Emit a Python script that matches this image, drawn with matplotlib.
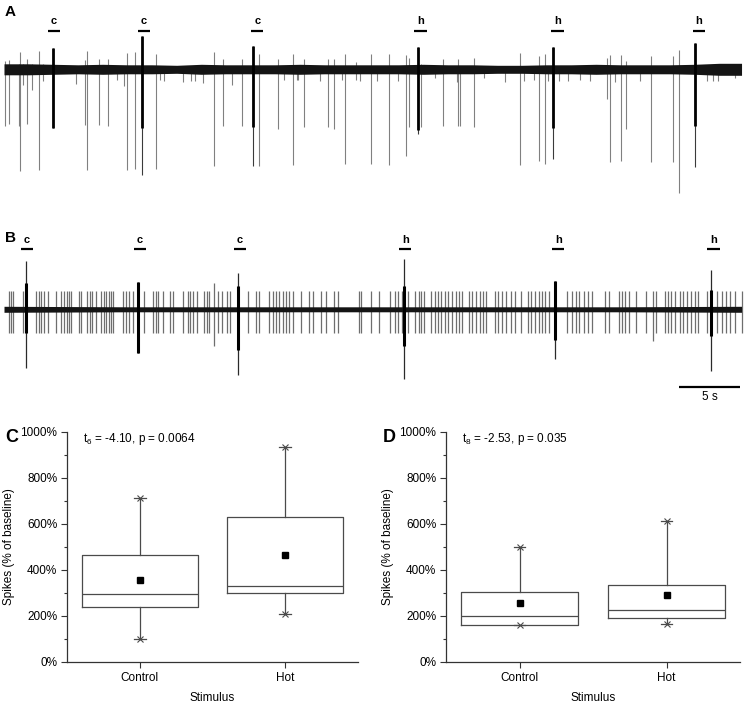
import numpy as np
import matplotlib
matplotlib.use("Agg")
import matplotlib.pyplot as plt
from matplotlib.ticker import MultipleLocator, PercentFormatter

plt.rcParams['font.family'] = ['Liberation Sans', 'DejaVu Sans']
plt.rcParams['mathtext.default'] = 'regular'

# --- Trace A (time in s, amplitude in arbitrary units) ---
a_spk_t = [0.06, 0.41, 1.19, 1.30, 1.52, 1.89, 2.25, 2.86, 3.14, 5.84, 6.57, 6.76, 7.70,
           8.41, 9.19, 9.73, 10.00, 10.65, 12.30, 12.65, 13.00, 14.54, 15.17, 15.49, 16.16,
           17.06, 17.74, 18.47, 19.28, 20.71, 22.22, 22.73, 23.41, 23.74, 23.87, 24.31,
           25.63, 26.28, 26.76, 27.39, 27.66, 28.55, 28.87, 29.79, 30.28, 31.22, 31.98,
           32.60, 32.82, 33.80, 34.98, 35.58, 36.72, 36.85, 37.01, 38.12, 38.93, 40.63,
           41.85, 42.20, 42.98, 43.41, 43.88, 44.14, 45.04, 45.72, 46.72, 47.53, 48.88,
           49.15, 49.55, 50.02, 50.45, 51.58, 52.47, 54.23, 54.69, 56.99, 57.48, 57.91, 59.29]
a_spk_down = [57, 55, 57, 102, 16, 55, 21, 101, 12, 15, 56, 101, 56,
              57, 11, 17, 101, 100, 100, 11, 12, 13, 12, 12, 14,
              97, 57, 16, 57, 97, 60, 11, 96, 11, 11, 58,
              12, 58, 60, 11, 95, 11, 12, 95, 12, 96, 12,
              87, 58, 58, 9, 57, 13, 57, 57, 58, 9, 13,
              96, 12, 11, 92, 95, 12, 12, 12, 11, 12, 30,
              93, 13, 92, 60, 12, 93, 93, 124, 12, 12, 12, 9]
a_spk_up = [8, 9, 5, 17, 5, 10, 5, 18, 5, 3, 9, 18, 10,
            10, 3, 3, 16, 17, 15, 3, 3, 3, 3, 3, 3,
            17, 10, 3, 10, 15, 10, 3, 15, 3, 3, 10,
            3, 10, 10, 3, 15, 7, 3, 15, 3, 15, 3,
            14, 11, 5, 3, 10, 3, 10, 3, 11, 3, 3,
            16, 3, 3, 13, 15, 3, 3, 3, 3, 3, 11,
            14, 3, 14, 8, 3, 13, 13, 19, 3, 3, 3, 3]
a_burst_t = [3.97, 11.17, 20.22, 33.60, 44.55, 56.04]
a_burst_core = [59, 59, 58, 61, 59, 57]
a_burst_tail = [59, 106, 97, 65, 90, 98]
a_burst_up = [21, 33, 23, 22, 22, 26]
a_env_t = [0, 2, 4, 6, 8, 10, 12, 14, 16, 18, 20, 22, 24, 26, 28, 30, 32, 34, 36, 38,
           40, 42, 44, 46, 48, 50, 52, 54, 56, 58, 59.8]
a_env = [5.5, 5.5, 5, 4.5, 5, 4.5, 4.5, 4, 5, 4.5, 4.5, 4.5, 5, 4.5, 4.5, 4.5, 4.5, 5, 4.5, 4.5,
         4, 4, 4.5, 4.5, 5, 4.5, 4.5, 4.5, 5, 6, 6]
a_stim_t = [3.54, 10.84, 20.03, 33.28, 44.39, 55.86]
a_stim_lab = ['c', 'c', 'c', 'h', 'h', 'h']

# --- Trace B ---
b_spk_t = [0.41, 0.57, 0.76, 1.52, 2.60, 2.87, 3.00, 3.27, 3.54, 4.22, 4.63, 4.90, 5.09,
           5.27, 5.44, 6.09, 6.22, 6.76, 6.98, 7.17, 7.44, 7.87, 8.14, 8.27, 8.54, 8.68,
           8.87, 9.63, 9.90, 10.17, 10.44, 11.38, 12.11, 12.33, 12.52, 12.92, 13.46, 13.68,
           14.49, 14.90, 15.09, 15.30, 15.63, 16.25, 16.44, 16.65, 17.38, 17.65, 18.06,
           18.33, 19.76, 20.44, 20.71, 21.52, 21.79, 22.06, 22.33, 22.60, 22.87, 23.14,
           23.41, 24.09, 24.76, 25.03, 25.71, 26.11, 26.79, 27.06, 28.82, 28.95, 29.76,
           30.39, 31.26, 31.69, 31.96, 32.23, 32.77, 33.36, 33.63, 33.85, 34.04, 34.66,
           34.93, 35.20, 35.47, 35.74, 36.01, 36.34, 36.61, 36.93, 37.15, 37.69, 37.96,
           38.31, 38.58, 38.85, 39.12, 39.80, 40.07, 40.39, 40.74, 41.07, 41.47, 41.88,
           42.50, 42.77, 43.09, 43.36, 43.63, 43.90, 44.17, 45.66, 46.07, 46.34, 46.61,
           47.01, 47.36, 47.69, 48.71, 49.04, 49.85, 50.07, 50.39, 50.66, 51.28, 52.09,
           52.90, 53.58, 53.85, 54.12, 54.39, 54.80, 55.07, 55.34, 55.74, 56.01, 56.28,
           56.96, 57.82, 58.23, 58.50, 58.90, 59.31, 59.80]
b_spk_up = 18
b_spk_down = 24
b_tall_t = [17.06, 52.63]
b_tall_up = [26, 18]
b_tall_down = [37, 32]
b_burst_t = [1.76, 10.84, 19.00, 32.42, 44.71, 57.34]
b_burst_core_up = [26, 27, 23, 23, 28, 19]
b_burst_core_down = [24, 44, 41, 37, 31, 27]
b_burst_tail_up = [48, 27, 36, 50, 28, 39]
b_burst_tail_down = [59, 44, 66, 70, 50, 62]
b_env_t = [0, 10, 20, 30, 40, 50, 59.8]
b_env = [3, 2.5, 2.5, 2.5, 2.5, 2.5, 3]
b_stim_t = [1.38, 10.54, 18.65, 32.04, 44.44, 57.02]
b_stim_lab = ['c', 'c', 'c', 'h', 'h', 'h']

# --- Box plots (% of baseline) ---
groups = ['Control', 'Hot']
c_med = [295, 331]; c_q1 = [238, 301]; c_q3 = [465, 629]
c_lo = [101, 208]; c_hi = [714, 933]; c_mean = [358, 465]
c_stat = 't$_6$ = -4.10, p = 0.0064'
d_med = [198, 224]; d_q1 = [160, 192]; d_q3 = [303, 334]
d_lo = [160, 166]; d_hi = [499, 614]; d_mean = [257, 292]
d_stat = 't$_8$ = -2.53, p = 0.035'

fig = plt.figure(figsize=(7.45, 7.04), dpi=100)


def trace(ax, env_t, env, ylim):
    ax.set_xlim(0, 60)
    ax.set_ylim(*ylim)
    ax.axis('off')
    ax.fill_between(env_t, -np.array(env), env, color='#141414', lw=0, zorder=2)


def stim(ax, t0s, labs, ybar, ylab):
    for t0, lab in zip(t0s, labs):
        ax.plot([t0, t0 + 1.0], [ybar, ybar], color='k', lw=1.6, solid_capstyle='butt')
        ax.text(t0 + 0.5, ylab, lab, ha='center', va='center', fontsize=8, fontweight='bold')


# A
axA = fig.add_axes([4 / 745, 1 - 200 / 704, 740 / 745, 190 / 704])
trace(axA, a_env_t, a_env, (-130.7, 59.3))
axA.vlines(a_spk_t, -np.array(a_spk_down), a_spk_up, color='#808080', lw=0.8, zorder=1)
axA.vlines(a_burst_t, -np.array(a_burst_tail), a_burst_up, color='#3a3a3a', lw=0.8, zorder=3)
axA.vlines(a_burst_t, -np.array(a_burst_core), a_burst_up, color='k', lw=2.0, zorder=3)
stim(axA, a_stim_t, a_stim_lab, 38.6, 48.3)

# B
axB = fig.add_axes([4 / 745, 1 - 402 / 704, 740 / 745, 164 / 704])
trace(axB, b_env_t, b_env, (-92.7, 71.3))
axB.vlines(b_spk_t, -b_spk_down, b_spk_up, color='#6e6e6e', lw=0.9, zorder=1)
axB.vlines(b_tall_t, -np.array(b_tall_down), b_tall_up, color='#6e6e6e', lw=0.9, zorder=1)
axB.vlines(b_burst_t, -np.array(b_burst_tail_down), b_burst_tail_up, color='#2a2a2a', lw=0.9, zorder=3)
axB.vlines(b_burst_t, -np.array(b_burst_core_down), b_burst_core_up, color='k', lw=2.2, zorder=3)
stim(axB, b_stim_t, b_stim_lab, 60.8, 69.3)
axB.plot([54.7, 59.7], [-77.7, -77.7], color='k', lw=1.6, solid_capstyle='butt')
axB.text(57.2, -87.7, '5 s', ha='center', va='center', fontsize=8.5)


def boxpanel(ax, med, q1, q3, lo, hi, mean, stat):
    stats = [dict(med=med[i], q1=q1[i], q3=q3[i], whislo=lo[i], whishi=hi[i],
                  mean=mean[i], fliers=[]) for i in range(len(groups))]
    pos = [1, 2]
    ec = '#4a4a4a'
    ax.bxp(stats, positions=pos, widths=0.8, showmeans=True, capwidths=0.08,
           boxprops=dict(color=ec, lw=0.9), medianprops=dict(color=ec, lw=0.9),
           whiskerprops=dict(color=ec, lw=0.9), capprops=dict(color=ec, lw=0.9),
           meanprops=dict(marker='s', markerfacecolor='k', markeredgecolor='k', markersize=4))
    ax.plot(pos, hi, 'x', color=ec, ms=4, mew=0.8)
    ax.plot(pos, lo, 'x', color=ec, ms=4, mew=0.8)
    ax.set_xlim(0.5, 2.5)
    ax.set_ylim(0, 1000)
    ax.yaxis.set_major_locator(MultipleLocator(200))
    ax.yaxis.set_minor_locator(MultipleLocator(100))
    ax.yaxis.set_major_formatter(PercentFormatter(xmax=100, decimals=0))
    ax.set_xticks(pos)
    ax.set_xticklabels(groups)
    for s in ['top', 'right']:
        ax.spines[s].set_visible(False)
    for s in ['left', 'bottom']:
        ax.spines[s].set_color('#333333')
        ax.spines[s].set_linewidth(0.9)
    ax.tick_params(which='major', direction='out', length=4, width=0.8, labelsize=8.5,
                   pad=3, color='#333333')
    ax.tick_params(which='minor', direction='out', length=2, width=0.8, color='#333333')
    ax.set_ylabel('Spikes (% of baseline)', fontsize=8.5, labelpad=4)
    ax.set_xlabel('Stimulus', fontsize=8.5, labelpad=6)
    ax.text(0.055, 0.97, stat, transform=ax.transAxes, fontsize=8.5, va='center', ha='left')


axC = fig.add_axes([67 / 745, 1 - 662 / 704, 291 / 745, 230 / 704])
boxpanel(axC, c_med, c_q1, c_q3, c_lo, c_hi, c_mean, c_stat)
axD = fig.add_axes([446 / 745, 1 - 662 / 704, 294 / 745, 230 / 704])
boxpanel(axD, d_med, d_q1, d_q3, d_lo, d_hi, d_mean, d_stat)

fig.text(5 / 745, 1 - 12 / 704, 'A', fontsize=11, fontweight='bold', va='center')
fig.text(5 / 745, 1 - 238 / 704, 'B', fontsize=11, fontweight='bold', va='center')
fig.text(5 / 745, 1 - 437 / 704, 'C', fontsize=13, fontweight='bold', va='center')
fig.text(383 / 745, 1 - 437 / 704, 'D', fontsize=13, fontweight='bold', va='center')

fig.savefig('out.png', dpi=100)
